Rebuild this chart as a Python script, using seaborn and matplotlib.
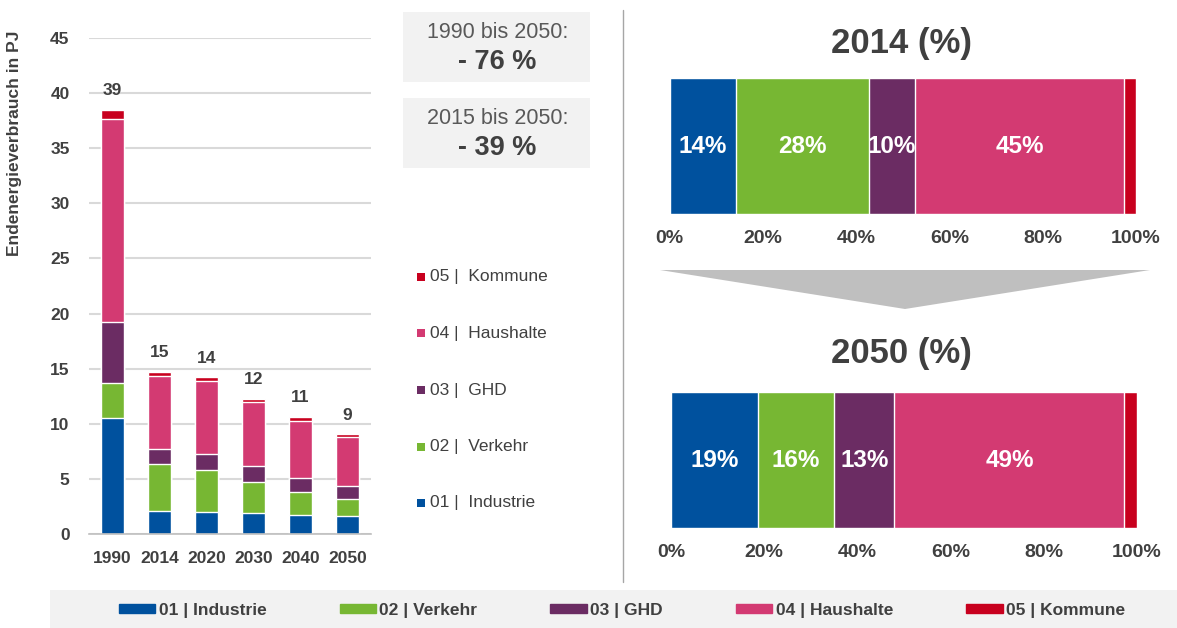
import numpy as np
import pandas as pd
import seaborn as sns
import matplotlib.pyplot as plt
from matplotlib.patches import Rectangle, Polygon, Patch

sns.set_style("white")
plt.rcParams['font.family'] = ['Liberation Sans', 'DejaVu Sans']

# -------------------------------
# Data
# -------------------------------
years = ["1990", "2014", "2020", "2030", "2040", "2050"]
sectors = ["01 |  Industrie", "02 |  Verkehr", "03 |  GHD", "04 |  Haushalte", "05 |  Kommune"]
industrie = [10.5, 2.14, 2.0, 1.9, 1.75, 1.65]
verkehr = [3.2, 4.2, 3.82, 2.87, 2.08, 1.55]
ghd = [5.55, 1.42, 1.45, 1.42, 1.27, 1.2]
haushalte = [18.35, 6.58, 6.61, 5.81, 5.16, 4.44]
kommune = [0.85, 0.36, 0.34, 0.3, 0.36, 0.21]
total_labels = [39, 15, 14, 12, 11, 9]

share_2014 = [14.3, 28.4, 9.9, 44.9, 2.5]
share_2050 = [18.7, 16.3, 13.0, 49.4, 2.6]

colors = ["#00519e", "#77b733", "#6b2c63", "#d33a72", "#c8001e"]
text_col = "#404040"

W, H = 1177, 628
def fx(x):
    return x / W
def fy(y):
    return 1 - y / H

fig = plt.figure(figsize=(11.77, 6.28), dpi=100)

# -------------------------------
# Left: stacked bars in PJ
# -------------------------------
ax = fig.add_axes([fx(89), fy(534.3), 282 / W, (534.3 - 37.7) / H])
df = pd.DataFrame({"year": years, "Industrie": industrie, "Verkehr": verkehr,
                   "GHD": ghd, "Haushalte": haushalte, "Kommune": kommune})
cols = ["Industrie", "Verkehr", "GHD", "Haushalte", "Kommune"]
cum = df[cols].cumsum(axis=1)

# draw from the top layer down so each lower layer sits over the one above
for i in range(len(cols) - 1, -1, -1):
    sns.barplot(x=df["year"], y=cum[cols[i]], color=colors[i], width=0.47,
                edgecolor="white", linewidth=1, saturation=1, ax=ax)

for i, lab in enumerate(total_labels):
    ax.text(i, cum["Kommune"][i] + 1.75, str(lab), ha="center", va="center",
            fontsize=12.5, fontweight="bold", color=text_col)

ax.set_ylim(0, 45)
ax.set_xlim(-0.5, 5.5)
ax.set_yticks(range(0, 46, 5))
ax.yaxis.grid(True, color="#d9d9d9", lw=1.5)
ax.set_axisbelow(True)
for s in ["top", "right", "left"]:
    ax.spines[s].set_visible(False)
ax.spines["bottom"].set_color("#bfbfbf")
ax.spines["bottom"].set_linewidth(1.2)
ax.set_xticks(np.arange(-0.5, 6, 1), minor=True)
ax.tick_params(axis="x", which="minor", length=6, color="#bfbfbf", width=1.2)
ax.tick_params(axis="both", which="major", length=0, labelsize=12.5, labelcolor=text_col)
ax.tick_params(axis="y", pad=14)
ax.tick_params(axis="x", pad=12)
for t in ax.get_xticklabels() + ax.get_yticklabels():
    t.set_fontweight("bold")
ax.set_xlabel("")
ax.set_ylabel("")
fig.text(fx(15), fy(143), "Endenergieverbrauch in PJ", rotation=90, ha="center",
         va="center", fontsize=12.5, fontweight="bold", color=text_col)

# -------------------------------
# Middle: change boxes and legend
# -------------------------------
for y0, top, bottom in [(12, "1990 bis 2050:", "- 76 %"), (98, "2015 bis 2050:", "- 39 %")]:
    fig.add_artist(Rectangle((fx(403), fy(y0 + 70)), 187 / W, 70 / H,
                             transform=fig.transFigure, color="#f2f2f2", lw=0))
    fig.text(fx(498), fy(y0 + 21), top, ha="center", va="center",
             fontsize=15.5, color="#595959")
    fig.text(fx(497), fy(y0 + 50), bottom, ha="center", va="center",
             fontsize=19.5, fontweight="bold", color=text_col)

leg_y = [503, 446.7, 390, 333.3, 276.7]
for i, name in enumerate(sectors):
    fig.add_artist(Rectangle((fx(417), fy(leg_y[i] + 4)), 8 / W, 8 / H,
                             transform=fig.transFigure, color=colors[i], lw=0))
    fig.text(fx(430), fy(leg_y[i]), name, ha="left", va="center",
             fontsize=12.5, color=text_col)

# separator
fig.add_artist(plt.Line2D([fx(623), fx(623)], [fy(10), fy(582)],
                          transform=fig.transFigure, color="#a6a6a6", lw=1))

# -------------------------------
# Right: share bars
# -------------------------------
def share_bar(rect, shares, title, title_y):
    a = fig.add_axes(rect)
    c = np.cumsum(shares)
    for i in range(len(shares) - 1, -1, -1):
        sns.barplot(x=[c[i]], y=[title], orient="h", color=colors[i], width=1,
                    edgecolor="white", linewidth=1, saturation=1, ax=a)
    for i in range(4):
        a.text(c[i] - shares[i] / 2, 0, f"{round(shares[i])}%", ha="center",
               va="center", fontsize=17.5, fontweight="bold", color="white")
    a.set_xlim(0, 100)
    a.set_ylim(0.5, -0.5)
    a.set_xticks(range(0, 101, 20))
    a.set_xticklabels([f"{v}%" for v in range(0, 101, 20)])
    a.set_yticks([])
    a.tick_params(axis="x", length=0, labelsize=14, labelcolor=text_col, pad=11)
    for t in a.get_xticklabels():
        t.set_fontweight("bold")
    for s in a.spines.values():
        s.set_visible(False)
    a.set_xlabel("")
    a.set_ylabel("")
    fig.text(fx(901), fy(title_y), f"{title} (%)", ha="center", va="center",
             fontsize=25, fontweight="bold", color=text_col)

share_bar([fx(669.7), fy(214.3), 466.3 / W, 136 / H], share_2014, "2014", 43)
share_bar([fx(671), fy(528.3), 465.6 / W, 136 / H], share_2050, "2050", 353)

fig.add_artist(Polygon([(fx(660), fy(270)), (fx(1150), fy(270)), (fx(905), fy(309))],
                       closed=True, transform=fig.transFigure, color="#bfbfbf", lw=0))

# -------------------------------
# Bottom legend band
# -------------------------------
fig.add_artist(Rectangle((fx(50), 0), (W - 50) / W, 38 / H,
                         transform=fig.transFigure, color="#f2f2f2", lw=0))
handles = [Patch(color=colors[i], label=sectors[i].replace("|  ", "| ")) for i in range(5)]
fig.legend(handles=handles, loc="center", bbox_to_anchor=(fx(622), fy(610)), ncol=5,
           frameon=False, handlelength=2.1, handleheight=0.4, handletextpad=0.2,
           columnspacing=4.2, prop={"weight": "bold", "size": 12.5},
           labelcolor=text_col)

fig.savefig("out.png", dpi=100)
